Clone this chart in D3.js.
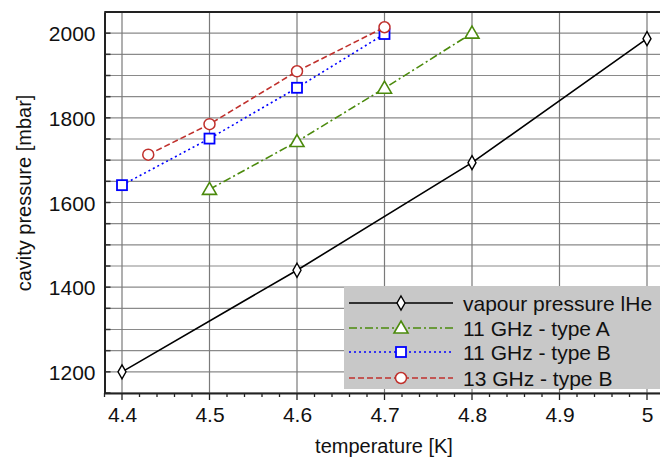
<!DOCTYPE html>
<html lang="en">
<head>
    <meta charset="UTF-8">
    <script src="https://d3js.org/d3.v7.min.js"></script>
    <style>
        body { margin: 0; background: #fff; }
        text { font-family: "Liberation Sans", Arial, sans-serif; fill: #111; }
    </style>
    <title>cavity pressure</title>
</head>
<body>
    <div class="canvas"></div>
    <script>
        const areaWidth = 660
        const areaHeight = 460

        // data
        const vapourT = [4.4, 4.6, 4.8, 5.0]
        const vapourP = [1200, 1440, 1694, 1987]
        const typeA11T = [4.5, 4.6, 4.7, 4.8]
        const typeA11P = [1631, 1744, 1870, 2000]
        const typeB11T = [4.4, 4.5, 4.6, 4.7]
        const typeB11P = [1641, 1751, 1871, 1998]
        const typeB13T = [4.43, 4.5, 4.6, 4.7]
        const typeB13P = [1713, 1785, 1910, 2014]
        const xTicks = [4.4, 4.5, 4.6, 4.7, 4.8, 4.9, 5]
        const yTicks = [1200, 1400, 1600, 1800, 2000]

        const series = [
            { name: 'vapour pressure lHe', t: vapourT, p: vapourP, color: '#000000', dash: null, marker: 'diamond' },
            { name: '11 GHz - type A', t: typeA11T, p: typeA11P, color: '#4b8a0c', dash: '8,3,2,3', marker: 'triangle' },
            { name: '11 GHz - type B', t: typeB11T, p: typeB11P, color: '#0000ff', dash: '2,3', marker: 'square' },
            { name: '13 GHz - type B', t: typeB13T, p: typeB13P, color: '#c0302c', dash: '6,3', marker: 'circle' }
        ]

        const svg = d3.select('.canvas')
            .append('svg')
            .attr('width', areaWidth)
            .attr('height', areaHeight)

        const x = d3.scaleLinear().domain([4.38, 5.02]).range([104.5, 664.5])
        const y = d3.scaleLinear().domain([1150, 2050]).range([393, 12])

        // grid
        const grid = svg.append('g')
        grid.selectAll('line.h')
            .data(d3.range(1150, 2051, 50))
            .enter().append('line')
            .attr('x1', x(4.38)).attr('x2', areaWidth)
            .attr('y1', d => y(d)).attr('y2', d => y(d))
            .attr('stroke', '#8a8a8a').attr('stroke-width', 1.2)
        grid.selectAll('line.v')
            .data(xTicks)
            .enter().append('line')
            .attr('x1', d => x(d)).attr('x2', d => x(d))
            .attr('y1', y(2050)).attr('y2', y(1150))
            .attr('stroke', '#7a7a7a').attr('stroke-width', 1.2)

        // y ticks inward
        svg.append('g').selectAll('line')
            .data(d3.range(1150, 2051, 50))
            .enter().append('line')
            .attr('x1', x(4.38)).attr('x2', x(4.38) + 6)
            .attr('y1', d => y(d)).attr('y2', d => y(d))
            .attr('stroke', '#333').attr('stroke-width', 1.5)

        // x axis with minor ticks
        const xMinor = d3.range(4.38, 5.021, 0.02).map(d => +d.toFixed(2))
        svg.append('g').selectAll('line')
            .data(xMinor)
            .enter().append('line')
            .attr('x1', d => x(d)).attr('x2', d => x(d))
            .attr('y1', y(1150)).attr('y2', d => y(1150) + (xTicks.some(t => Math.abs(t - d) < 1e-6) ? 7 : 4))
            .attr('stroke', '#222').attr('stroke-width', 1.3)

        const xAxis = d3.axisBottom(x).tickValues(xTicks).tickSize(0).tickPadding(14)
            .tickFormat(d => d3.format('~g')(d))
        const xAxisG = svg.append('g').attr('transform', `translate(0,${y(1150)})`).call(xAxis)
        xAxisG.select('.domain').attr('stroke', '#222').attr('stroke-width', 2)
        xAxisG.selectAll('text').style('font-size', '21px').attr('fill', '#111')

        const yAxis = d3.axisLeft(y).tickValues(yTicks).tickSize(0).tickPadding(9)
            .tickFormat(d3.format('d'))
        const yAxisG = svg.append('g').attr('transform', `translate(${x(4.38)},0)`).call(yAxis)
        yAxisG.select('.domain').attr('stroke', '#222').attr('stroke-width', 2)
        yAxisG.selectAll('text').style('font-size', '21px').attr('fill', '#111').attr('dy', '0.36em')

        svg.append('line')
            .attr('x1', x(4.38)).attr('x2', areaWidth)
            .attr('y1', y(2050)).attr('y2', y(2050))
            .attr('stroke', '#222').attr('stroke-width', 2)

        // axis titles
        svg.append('text')
            .attr('x', 384).attr('y', 453)
            .attr('text-anchor', 'middle')
            .style('font-size', '20px')
            .text('temperature [K]')
        svg.append('text')
            .attr('transform', 'translate(31,193) rotate(-90)')
            .attr('text-anchor', 'middle')
            .style('font-size', '20px')
            .text('cavity pressure [mbar]')

        function drawMarker(g, type, color, cx, cy) {
            if (type === 'diamond') {
                g.append('path').attr('d', `M${cx},${cy - 7}L${cx + 4},${cy}L${cx},${cy + 7}L${cx - 4},${cy}Z`)
                    .attr('fill', '#fff').attr('stroke', color).attr('stroke-width', 1.4)
            } else if (type === 'triangle') {
                g.append('path').attr('d', `M${cx},${cy - 7}L${cx + 7},${cy + 5}L${cx - 7},${cy + 5}Z`)
                    .attr('fill', '#fff').attr('stroke', color).attr('stroke-width', 1.6)
            } else if (type === 'square') {
                g.append('rect').attr('x', cx - 5).attr('y', cy - 5).attr('width', 10).attr('height', 10)
                    .attr('fill', '#fff').attr('stroke', color).attr('stroke-width', 1.8)
            } else {
                g.append('circle').attr('cx', cx).attr('cy', cy).attr('r', 5.5)
                    .attr('fill', '#fff').attr('stroke', color).attr('stroke-width', 1.5)
            }
        }

        const line = d3.line().x(d => x(d[0])).y(d => y(d[1]))
        const plot = svg.append('g')
        series.forEach(s => {
            const pts = s.t.map((t, i) => [t, s.p[i]])
            plot.append('path')
                .attr('d', line(pts))
                .attr('fill', 'none')
                .attr('stroke', s.color)
                .attr('stroke-width', 1.6)
                .attr('stroke-dasharray', s.dash)
            pts.forEach(d => drawMarker(plot, s.marker, s.color, x(d[0]), y(d[1])))
        })

        // legend
        const legend = svg.append('g')
        legend.append('rect')
            .attr('x', 344).attr('y', 286).attr('width', 320).attr('height', 103)
            .attr('fill', '#c8c8c8')
        const rowY = [303, 328, 352, 378]
        series.forEach((s, i) => {
            legend.append('line')
                .attr('x1', 349).attr('x2', 453)
                .attr('y1', rowY[i]).attr('y2', rowY[i])
                .attr('stroke', s.color).attr('stroke-width', 1.6)
                .attr('stroke-dasharray', s.dash)
            drawMarker(legend, s.marker, s.color, 401, rowY[i])
            legend.append('text')
                .attr('x', 463).attr('y', rowY[i]).attr('dy', '0.36em')
                .style('font-size', '21px')
                .text(s.name)
        })
    </script>
</body>
</html>
